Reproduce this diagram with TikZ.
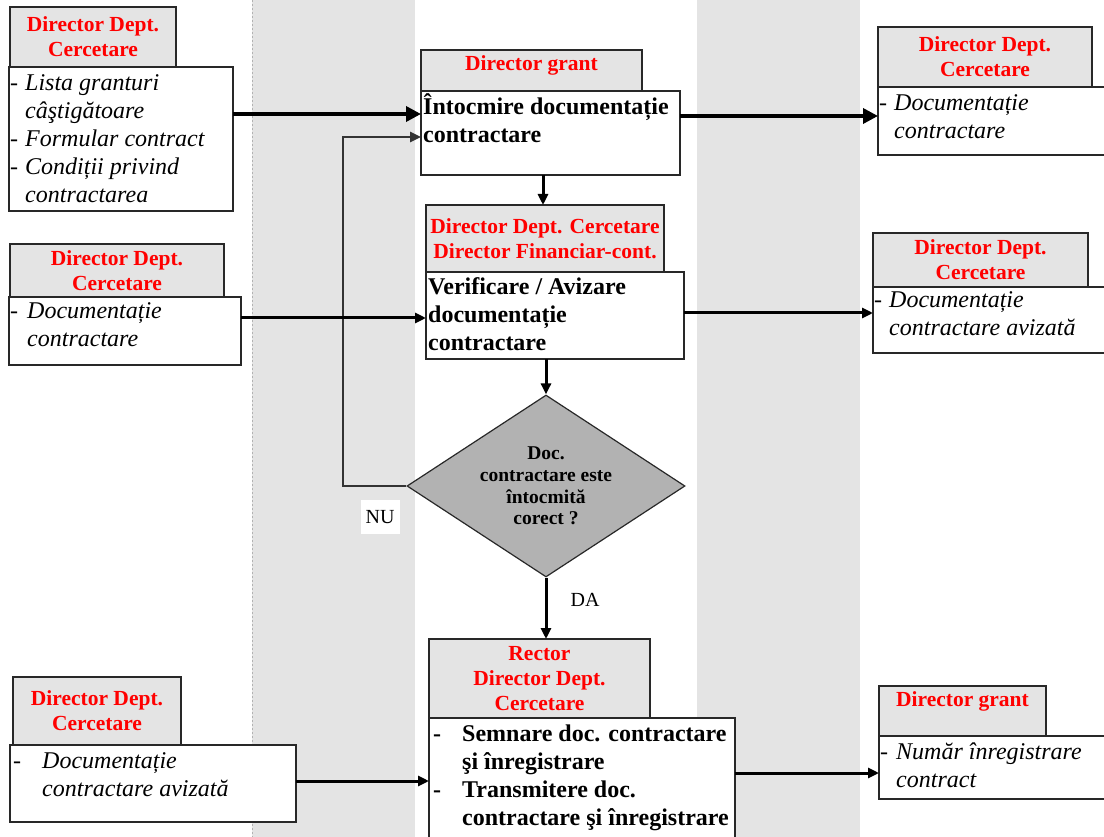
\documentclass[tikz,border=0pt]{standalone}
\usepackage{fontspec}
\setmainfont{Liberation Serif}
\usepackage{tikz}
\usetikzlibrary{arrows.meta,shapes.geometric}
\definecolor{bandgray}{RGB}{228,228,228}
\definecolor{headgray}{RGB}{228,228,228}
\definecolor{decgray}{RGB}{178,178,178}
\definecolor{linegray}{RGB}{40,40,40}
\tikzstyle{head}=[draw=linegray,line width=1.2pt,fill=headgray,anchor=north west,inner sep=0pt,outer sep=0pt,align=center,text=red,font=\fontsize{21.5}{25}\selectfont\bfseries]
\tikzstyle{body}=[draw=linegray,line width=1.2pt,fill=white,anchor=north west,inner sep=0pt,outer sep=0pt]
\tikzstyle{item text}=[anchor=base west,inner sep=0pt,font=\fontsize{24}{28}\selectfont\itshape]
\tikzstyle{task text}=[anchor=base west,inner sep=0pt,font=\fontsize{24}{28}\selectfont\bfseries]
\tikzstyle{decision}=[diamond,aspect=1.527,draw=linegray,line width=1.2pt,fill=decgray,inner sep=0pt,minimum width=278pt,minimum height=182pt,align=center,font=\fontsize{19.5}{21.7}\selectfont\bfseries]
\tikzstyle{flow}=[draw=black,line width=3pt,-{Triangle[length=11pt,width=10pt]}]
\tikzstyle{thick flow}=[draw=black,line width=3.5pt,-{Triangle[length=15pt,width=15pt]}]
\tikzstyle{answer}=[inner sep=0pt,minimum width=39pt,minimum height=34pt,font=\fontsize{20}{24}\selectfont]

\begin{document}
\begin{tikzpicture}[x=1pt,y=-1pt]
        \useasboundingbox (0,0) rectangle (1104,837);
        \clip (0,0) rectangle (1104,837);
        % lanes
        \fill[bandgray] (252,0) rectangle (415,837);
        \fill[bandgray] (697,0) rectangle (860,837);
        \draw[gray!60,line width=0.8pt,dash pattern=on 2pt off 2pt] (252,0) -- (252,837);
        % inputs
        \node[head,minimum width=166pt,minimum height=60pt] (inHead1) at (10,7) {Director Dept.\\Cercetare};
        \node[body,minimum width=224pt,minimum height=144pt] (inBody1) at (9,67) {};
        \node[item text] (inText1) at (10,91) {\begin{tabular}[t]{@{}p{15pt}@{}l@{}}-&Lista granturi\\&câştigătoare\\-&Formular contract\\-&Condiții privind\\&contractarea\end{tabular}};
        \node[head,minimum width=214pt,minimum height=53pt] (inHead2) at (10,244) {Director Dept.\\Cercetare};
        \node[body,minimum width=232pt,minimum height=68pt] (inBody2) at (9,297) {};
        \node[item text] (inText2) at (10,319) {\begin{tabular}[t]{@{}p{17pt}@{}l@{}}-&Documentație\\&contractare\end{tabular}};
        \node[head,minimum width=168pt,minimum height=68pt] (inHead3) at (13,677) {Director Dept.\\Cercetare};
        \node[body,minimum width=286pt,minimum height=77pt] (inBody3) at (10,745) {};
        \node[item text] (inText3) at (13,768) {\begin{tabular}[t]{@{}p{29pt}@{}l@{}}-&Documentație\\&contractare avizată\end{tabular}};
        % process
        \node[head,minimum width=221pt,minimum height=41pt,text depth=14pt] (procHead1) at (421,50) {Director grant};
        \node[body,minimum width=259pt,minimum height=84pt] (procBody1) at (421,91) {};
        \node[task text] (procText1) at (423,115) {\begin{tabular}[t]{@{}l@{}}Întocmire documentație\\contractare\end{tabular}};
        \node[head,minimum width=238pt,minimum height=67pt] (procHead2) at (426,205) {Director Dept. Cercetare\\Director Financiar-cont.};
        \node[body,minimum width=258pt,minimum height=87pt] (procBody2) at (426,272) {};
        \node[task text] (procText2) at (428,295) {\begin{tabular}[t]{@{}l@{}}Verificare / Avizare\\documentație\\contractare\end{tabular}};
        \node[decision] (dec) at (546,486) {Doc.\\contractare este\\întocmită\\corect ?};
        \node[head,minimum width=221pt,minimum height=79pt] (procHead3) at (429,639) {Rector\\Director Dept.\\Cercetare};
        \node[body,minimum width=306pt,minimum height=130pt] (procBody3) at (429,718) {};
        \node[task text] (procText3) at (433,741) {\begin{tabular}[t]{@{}p{29pt}@{}l@{}}-&Semnare doc. contractare\\&şi înregistrare\\-&Transmitere doc.\\&contractare şi înregistrare\end{tabular}};
        \node[answer,fill=white] (nu) at (380,517) {NU};
        \node[answer] (da) at (585,600) {DA};
        % outputs
        \node[head,minimum width=214pt,minimum height=60pt] (outHead1) at (878,27) {Director Dept.\\Cercetare};
        \node[body,minimum width=240pt,minimum height=68pt] (outBody1) at (878,87) {};
        \node[item text] (outText1) at (879,111) {\begin{tabular}[t]{@{}p{15pt}@{}l@{}}-&Documentație\\&contractare\end{tabular}};
        \node[head,minimum width=215pt,minimum height=54pt] (outHead2) at (873,233) {Director Dept.\\Cercetare};
        \node[body,minimum width=245pt,minimum height=66pt] (outBody2) at (873,287) {};
        \node[item text] (outText2) at (874,308) {\begin{tabular}[t]{@{}p{15pt}@{}l@{}}-&Documentație\\&contractare avizată\end{tabular}};
        \node[head,minimum width=167pt,minimum height=50pt,text depth=24pt] (outHead3) at (879,686) {Director grant};
        \node[body,minimum width=240pt,minimum height=63pt] (outBody3) at (879,736) {};
        \node[item text] (outText3) at (880,759) {\begin{tabular}[t]{@{}p{16pt}@{}l@{}}-&Număr înregistrare\\&contract\end{tabular}};
        % connectors
        \coordinate (loopTop) at (343,137);
        \draw[thick flow] (inBody1.east |- 0,114) to (procBody1.west |- 0,114);
        \draw[flow,line width=2.5pt,draw=black!80] (dec.west) -| (loopTop) to (procBody1.west |- loopTop);
        \draw[thick flow] (procBody1.east |- 0,116) to (outBody1.west |- 0,116);
        \draw[flow] (procBody1.south -| 543,0) to (procHead2.north -| 543,0);
        \draw[flow] (inBody2.east |- 0,318) to (procBody2.west |- 0,318);
        \draw[flow] (procBody2.east |- 0,313) to (outBody2.west |- 0,313);
        \draw[flow] (procBody2.south -| dec.north) to (dec.north);
        \draw[flow] (dec.south) to (procHead3.north -| dec.south);
        \draw[flow] (inBody3.east |- 0,781) to (procBody3.west |- 0,781);
        \draw[flow] (procBody3.east |- 0,773) to (outBody3.west |- 0,773);
      \end{tikzpicture}
\end{document}
